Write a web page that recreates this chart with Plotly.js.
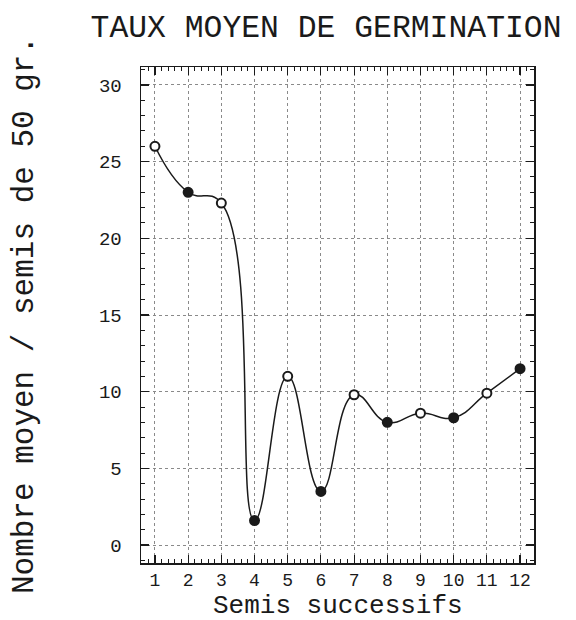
<!DOCTYPE html>
<html>
<head>
<meta charset="utf-8">
<script src="https://cdn.plot.ly/plotly-3.0.1.min.js"></script>
<style>html,body{margin:0;padding:0;background:#fff;}#chart{width:576px;height:620px;}</style>
</head>
<body>
<div id="chart"></div>
<script>
const semis = [1, 2, 3, 4, 5, 6, 7, 8, 9, 10, 11, 12];
const tauxMoyen = [26.0, 23.0, 22.3, 1.6, 11.0, 3.5, 9.8, 8.0, 8.6, 8.3, 9.9, 11.5];
const xTickVals = [1, 2, 3, 4, 5, 6, 7, 8, 9, 10, 11, 12];
const yTickVals = [0, 5, 10, 15, 20, 25, 30];

const ink = '#1a1a1a';
const font = 'Liberation Mono, Courier New, monospace';

const trace = {
  x: semis,
  y: tauxMoyen,
  type: 'scatter',
  mode: 'lines+markers',
  line: {color: ink, width: 1.5, shape: 'spline', smoothing: 1.3},
  marker: {
    size: 9,
    color: semis.map((_, i) => i % 2 === 0 ? '#ffffff' : ink),
    line: {color: ink, width: 2}
  },
  hoverinfo: 'x+y'
};

const axisCommon = {
  showline: true,
  linecolor: ink,
  linewidth: 1.5,
  mirror: 'ticks',
  ticks: 'inside',
  ticklen: 8,
  tickwidth: 1.2,
  tickcolor: ink,
  showgrid: true,
  gridcolor: '#8a8a8a',
  gridwidth: 1,
  griddash: 'dot',
  zeroline: false,
  tickfont: {family: font, size: 19, color: ink}
};

const layout = {
  width: 576,
  height: 620,
  paper_bgcolor: '#ffffff',
  plot_bgcolor: '#ffffff',
  margin: {l: 141, r: 42, t: 67, b: 57},
  showlegend: false,
  title: {
    text: 'TAUX MOYEN DE GERMINATION',
    font: {family: font, size: 31.4, color: ink},
    xref: 'container', yref: 'container',
    x: 0.566, xanchor: 'center',
    y: 0.958, yanchor: 'middle'
  },
  xaxis: Object.assign({}, axisCommon, {
    range: [0.58, 12.42],
    tickmode: 'array',
    tickvals: xTickVals,
    ticktext: xTickVals.map(String),
    ticklabelstandoff: 0,
    tickfont: {family: font, size: 18, color: ink},
    minor: {dtick: 0.2, tick0: 0, ticks: 'inside', ticklen: 4, tickwidth: 1, tickcolor: ink, showgrid: false}
  }),
  yaxis: Object.assign({}, axisCommon, {
    range: [-1.17, 31.17],
    tickmode: 'array',
    tickvals: yTickVals,
    ticktext: yTickVals.map(String),
    ticklabelstandoff: 14,
    minor: {dtick: 1, tick0: 0, ticks: 'inside', ticklen: 4, tickwidth: 1, tickcolor: ink, showgrid: false},
    title: {text: 'Nombre moyen / semis de 50 gr.', font: {family: font, size: 31, color: ink}, standoff: 56}
  }),
  annotations: [{
    text: 'Semis successifs',
    xref: 'paper', yref: 'paper',
    x: 0.5, xanchor: 'center',
    y: -0.0875, yanchor: 'middle',
    showarrow: false,
    font: {family: font, size: 26, color: ink}
  }]
};

Plotly.newPlot('chart', [trace], layout, {staticPlot: true, displayModeBar: false});
</script>
</body>
</html>
